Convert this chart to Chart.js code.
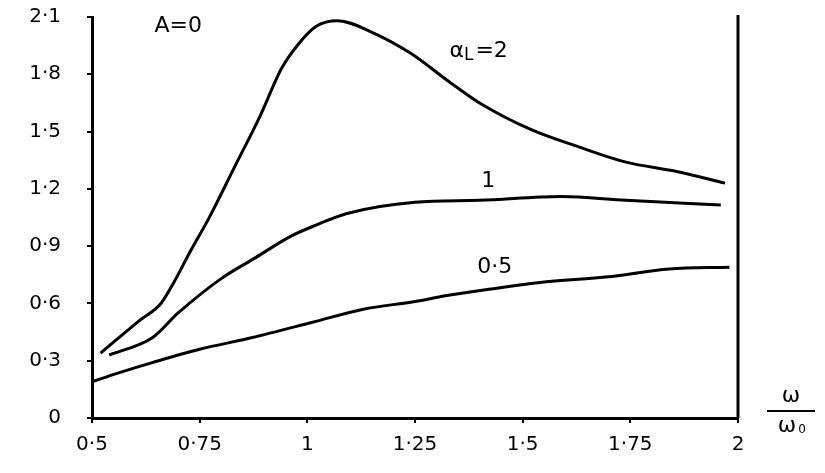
<!DOCTYPE html>
<html>
<head>
<meta charset="utf-8">
<script src="https://cdn.jsdelivr.net/npm/chart.js@4/dist/chart.umd.min.js"></script>
<style>
    body { margin: 0; background: #fff; }
    #wrap { width: 825px; height: 473px; position: relative; }
</style>
</head>
<body>
<div id="wrap"><canvas id="chart"></canvas></div>
<script>
// Data
const xTickLabels = ['0·5', '0·75', '1', '1·25', '1·5', '1·75', '2'];
const yTickLabels = ['0', '0·3', '0·6', '0·9', '1·2', '1·5', '1·8', '2·1'];

const alpha2X = [0.52, 0.61, 0.66, 0.69, 0.73, 0.77, 0.83, 0.89, 0.94, 0.98, 1.02, 1.07, 1.15, 1.24, 1.33, 1.40, 1.52, 1.63, 1.74, 1.86, 1.97];
const alpha2Y = [0.34, 0.51, 0.60, 0.71, 0.88, 1.04, 1.31, 1.58, 1.83, 1.96, 2.05, 2.08, 2.02, 1.91, 1.76, 1.65, 1.51, 1.42, 1.34, 1.29, 1.23];

const alpha1X = [0.54, 0.64, 0.70, 0.80, 0.88, 0.96, 1.02, 1.09, 1.25, 1.40, 1.59, 1.74, 1.96];
const alpha1Y = [0.33, 0.42, 0.55, 0.73, 0.84, 0.95, 1.01, 1.07, 1.13, 1.14, 1.16, 1.14, 1.115];

const alpha05X = [0.50, 0.56, 0.64, 0.75, 0.87, 1.01, 1.13, 1.25, 1.32, 1.44, 1.54, 1.70, 1.84, 1.98];
const alpha05Y = [0.19, 0.235, 0.29, 0.36, 0.42, 0.50, 0.57, 0.61, 0.64, 0.68, 0.71, 0.74, 0.78, 0.79];

const FONT = '"DejaVu Sans", sans-serif';

function toPoints(xs, ys) {
    return xs.map((x, i) => ({ x: x, y: ys[i] }));
}

function curve(xs, ys) {
    return {
        data: toPoints(xs, ys),
        borderColor: '#000',
        borderWidth: 3,
        pointRadius: 0,
        fill: false,
        tension: 0.4,
        cubicInterpolationMode: 'monotone'
    };
}

// Right border line and hand-written notes
const notesPlugin = {
    id: 'notes',
    afterDraw(chart) {
        const ctx = chart.ctx;
        const area = chart.chartArea;
        const xs = chart.scales.x;
        const ys = chart.scales.y;
        ctx.save();
        ctx.strokeStyle = '#000';
        ctx.lineWidth = 3;
        ctx.beginPath();
        ctx.moveTo(area.right, area.top - 2);
        ctx.lineTo(area.right, area.bottom);
        ctx.stroke();

        ctx.fillStyle = '#000';
        ctx.textAlign = 'center';
        ctx.textBaseline = 'middle';
        ctx.font = '22px ' + FONT;
        ctx.fillText('A=0', xs.getPixelForValue(0.70), ys.getPixelForValue(2.05));
        ctx.fillText('1', xs.getPixelForValue(1.42), ys.getPixelForValue(1.24));
        ctx.fillText('0·5', xs.getPixelForValue(1.435), ys.getPixelForValue(0.79));

        // αL=2
        let px = xs.getPixelForValue(1.33);
        const py = ys.getPixelForValue(1.92);
        ctx.textAlign = 'left';
        ctx.fillText('α', px, py);
        px += ctx.measureText('α').width;
        ctx.font = '17px ' + FONT;
        ctx.fillText('L', px, py + 4);
        px += ctx.measureText('L').width + 2;
        ctx.font = '22px ' + FONT;
        ctx.fillText('=2', px, py);

        // ω / ω0 axis note
        const cx = area.right + 53;
        const cy = area.bottom - 7;
        ctx.textAlign = 'center';
        ctx.fillText('ω', cx, cy - 15);
        ctx.lineWidth = 2;
        ctx.beginPath();
        ctx.moveTo(cx - 24, cy);
        ctx.lineTo(cx + 24, cy);
        ctx.stroke();
        ctx.fillText('ω', cx - 4, cy + 15);
        ctx.font = '12px ' + FONT;
        ctx.fillText('0', cx + 11, cy + 19);
        ctx.restore();
    }
};

new Chart(document.getElementById('chart'), {
    type: 'line',
    data: {
        datasets: [
            curve(alpha2X, alpha2Y),
            curve(alpha1X, alpha1Y),
            curve(alpha05X, alpha05Y)
        ]
    },
    options: {
        responsive: true,
        maintainAspectRatio: false,
        animation: false,
        layout: { padding: { left: 0, right: 87, top: 17, bottom: 0 } },
        plugins: {
            legend: { display: false },
            tooltip: { enabled: false }
        },
        scales: {
            x: {
                type: 'linear',
                min: 0.5,
                max: 2,
                afterFit: scale => { scale.height = 55; },
                afterBuildTicks: scale => {
                    scale.ticks = xTickLabels.map((t, i) => ({ value: 0.5 + i * 0.25 }));
                },
                ticks: {
                    color: '#000',
                    font: { family: FONT, size: 20 },
                    padding: 10,
                    maxRotation: 0,
                    callback: (v, i) => xTickLabels[i]
                },
                grid: { drawOnChartArea: false, color: '#000', lineWidth: 2, tickLength: 5 },
                border: { color: '#000', width: 3 }
            },
            y: {
                min: 0,
                max: 2.1,
                afterFit: scale => {
                    scale.width = 92;
                    scale.paddingTop = 0;
                    scale.paddingBottom = 0;
                },
                afterBuildTicks: scale => {
                    scale.ticks = yTickLabels.map((t, i) => ({ value: i * 0.3 }));
                },
                ticks: {
                    color: '#000',
                    font: { family: FONT, size: 20 },
                    padding: 26,
                    callback: (v, i) => yTickLabels[i]
                },
                grid: { drawOnChartArea: false, color: '#000', lineWidth: 2, tickLength: 5 },
                border: { color: '#000', width: 3 }
            }
        }
    },
    plugins: [notesPlugin]
});
</script>
</body>
</html>
